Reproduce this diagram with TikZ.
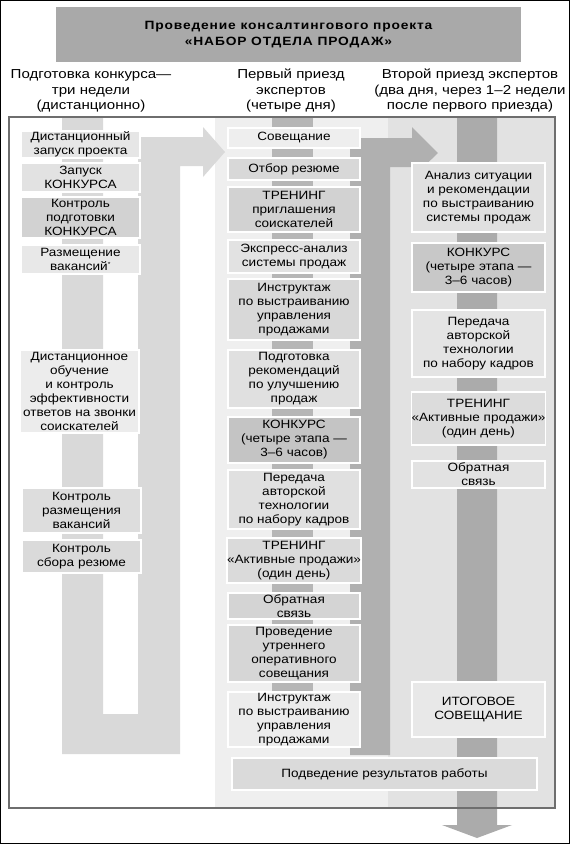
\documentclass[tikz,border=0pt]{standalone}
\usepackage{fontspec}
\setmainfont{Liberation Sans}[FakeStretch=1.13]
\newfontfamily\hdfam{Liberation Sans}[FakeStretch=1.16]
\newfontfamily\tifam{Liberation Sans}[FakeStretch=1.15, LetterSpace=7]
\newcommand{\boxfont}{\fontsize{12}{14}\selectfont}
\newcommand{\headfont}{\hdfam\fontsize{13}{15.5}\selectfont}
\newcommand{\titfont}{\tifam\fontsize{12}{16}\selectfont\bfseries}
\tikzset{
  bx/.style={draw=white, line width=1.5, fill={rgb,255:red,#1;green,#1;blue,#1},
    inner sep=0pt, align=center, font=\boxfont},
  lb/.style={bx=#1, minimum width=119, minimum height=26},
  mb/.style={bx=#1, minimum width=132},
  rb/.style={bx=#1, minimum width=133},
}
\definecolor{titlegray}{HTML}{A9A9A9}
\definecolor{framegray}{HTML}{6E6E6E}
\definecolor{midbg}{HTML}{EFEFEF}
\definecolor{rightbg}{HTML}{E2E2E2}
\definecolor{larrow}{HTML}{D9D9D9}
\definecolor{marrow}{HTML}{B0B0B0}
\definecolor{mband}{HTML}{B6B6B6}
\definecolor{rband}{HTML}{ABABAB}
\begin{document}
\begin{tikzpicture}[x=1pt,y=-1pt]
\useasboundingbox (0,0) rectangle (570,844);
\fill[white] (0,0) rectangle (570,844);
\draw[black, line width=1] (0.5,0.5) rectangle (569.5,843.5);
% title
\fill[titlegray] (56,7) rectangle (521,62);
\node[font=\titfont, align=center] (title) at (288.5,35) {Проведение консалтингового проекта\\«НАБОР ОТДЕЛА ПРОДАЖ»};
% headers
\node[font=\headfont, align=center] (h1) at (91,91) {Подготовка конкурса—\\три недели\\(дистанционно)};
\node[font=\headfont, align=center] (h2) at (291,91) {Первый приезд\\экспертов\\(четыре дня)};
\node[font=\headfont, align=center] (h3) at (470,91) {Второй приезд экспертов\\(два дня, через 1–2 недели\\после первого приезда)};
% column backgrounds
\fill[white] (9,117) rectangle (215,808);
\fill[midbg] (215,117) rectangle (388,808);
\fill[rightbg] (388,117) rectangle (555,808);
% left U arrow
\fill[larrow] (62,117) -- (103,117) -- (103,714) -- (138,714) -- (138,137) -- (203,137)
  -- (203,127) -- (225,152) -- (203,177) -- (203,166) -- (180,166) -- (180,754) -- (62,754) -- cycle;
% middle band
\fill[mband] (272,117) rectangle (313,747);
% middle arrow
\fill[marrow] (350,755) -- (350,138) -- (412,138) -- (412,127) -- (438,153) -- (412,178)
  -- (412,167) -- (390,167) -- (390,755) -- cycle;
% right band with down arrow
\fill[rband] (457,117) -- (497,117) -- (497,825) -- (512,825) -- (477,838) -- (442,825) -- (457,825) -- cycle;
% left boxes
\node[lb=230, minimum height=27] (l1) at (80.5,144.5) {Дистанционный\\запуск проекта};
\node[lb=226, minimum height=29] (l2) at (80.5,177.5) {Запуск\\КОНКУРСА};
\node[lb=210, minimum height=41] (l3) at (80.5,217.5) {Контроль\\подготовки\\КОНКУРСА};
\node[lb=232, minimum height=29] (l4) at (80.5,259.5) {Размещение\\вакансий\textsuperscript{\fontsize{6}{6}\selectfont *}};
\node[lb=236, minimum height=83] (l5) at (79.5,391.5) {Дистанционное\\обучение\\и контроль\\эффективности\\ответов на звонки\\соискателей};
\node[lb=221, minimum height=45] (l6) at (81.5,510.5) {Контроль\\размещения\\вакансий};
\node[lb=218, minimum height=33] (l7) at (81.5,556.5) {Контроль\\сбора резюме};
% middle boxes
\node[mb=238, minimum height=20] (m1) at (294,138) {Совещание};
\node[mb=216, minimum height=22] (m2) at (294,169) {Отбор резюме};
\node[mb=210, minimum height=45] (m3) at (294,209.5) {ТРЕНИНГ\\приглашения\\соискателей};
\node[mb=226, minimum height=33] (m4) at (294,256.5) {Экспресс-анализ\\системы продаж};
\node[mb=216, minimum height=61] (m5) at (294,309.5) {Инструктаж\\по выстраиванию\\управления\\продажами};
\node[mb=224, minimum height=58] (m6) at (294,379) {Подготовка\\рекомендаций\\по улучшению\\продаж};
\node[mb=196, minimum height=46] (m7) at (294,440) {КОНКУРС\\(четыре этапа —\\3–6 часов)};
\node[mb=224, minimum height=59] (m8) at (294,499.5) {Передача\\авторской\\технологии\\по набору кадров};
\node[mb=218, minimum height=45] (m9) at (294,560.5) {ТРЕНИНГ\\«Активные продажи»\\(один день)};
\node[mb=212, minimum height=26] (m10) at (294,606) {Обратная\\связь};
\node[mb=214, minimum height=57] (m11) at (294,653.5) {Проведение\\утреннего\\оперативного\\совещания};
\node[mb=236, minimum height=55] (m12) at (294,719.5) {Инструктаж\\по выстраиванию\\управления\\продажами};
% bottom box
\node[bx=218, minimum width=305, minimum height=32] (res) at (384.5,774) {Подведение результатов работы};
% right boxes
\node[rb=224, minimum height=69] (r1) at (478.5,197.5) {Анализ ситуации\\и рекомендации\\по выстраиванию\\системы продаж};
\node[rb=200, minimum height=49] (r2) at (478.5,267.5) {КОНКУРС\\(четыре этапа —\\3–6 часов)};
\node[rb=228, minimum height=67] (r3) at (478.5,343.5) {Передача\\авторской\\технологии\\по набору кадров};
\node[rb=220, minimum height=53] (r4) at (478.5,418.5) {ТРЕНИНГ\\«Активные продажи»\\(один день)};
\node[rb=226, minimum height=27] (r5) at (478.5,474.5) {Обратная\\связь};
\node[rb=232, minimum height=55] (r6) at (478.5,709.5) {ИТОГОВОЕ\\СОВЕЩАНИЕ};
% frame
\draw[framegray, line width=2.5] (9,117) rectangle (555,808);
\end{tikzpicture}
\end{document}
